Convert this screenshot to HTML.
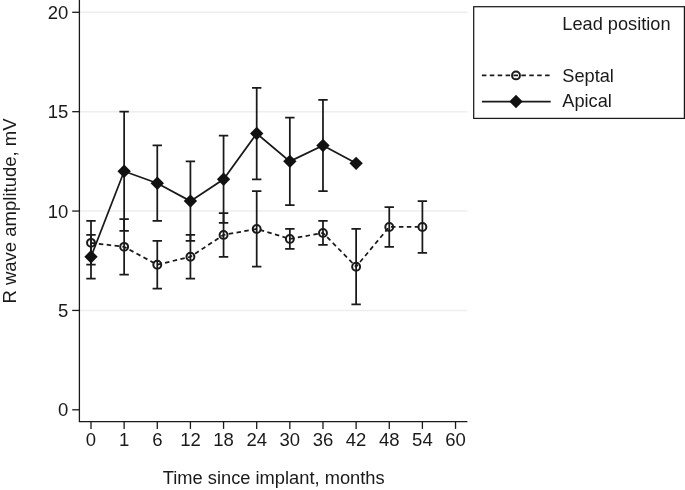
<!DOCTYPE html><html><head><meta charset="utf-8"><title>Chart</title><style>html,body{margin:0;padding:0;background:#fff}svg{display:block}text{font-family:"Liberation Sans",Arial,sans-serif;fill:#1a1a1a}</style></head><body>
<svg width="685" height="490" viewBox="0 0 685 490">
<rect width="685" height="490" fill="#fff"/>
<line x1="79.4" x2="467.4" y1="310.43" y2="310.43" stroke="#eeeeee" stroke-width="1.5"/>
<line x1="79.4" x2="467.4" y1="211.05" y2="211.05" stroke="#eeeeee" stroke-width="1.5"/>
<line x1="79.4" x2="467.4" y1="111.68" y2="111.68" stroke="#eeeeee" stroke-width="1.5"/>
<line x1="79.4" x2="467.4" y1="12.30" y2="12.30" stroke="#eeeeee" stroke-width="1.5"/>
<path d="M79.4 0V421.6H467.4" fill="none" stroke="#1a1a1a" stroke-width="1.3"/>
<line x1="72.2" x2="79.4" y1="409.80" y2="409.80" stroke="#1a1a1a" stroke-width="1.3"/>
<text x="68.4" y="416.40" font-size="18.5" text-anchor="end">0</text>
<line x1="72.2" x2="79.4" y1="310.43" y2="310.43" stroke="#1a1a1a" stroke-width="1.3"/>
<text x="68.4" y="317.03" font-size="18.5" text-anchor="end">5</text>
<line x1="72.2" x2="79.4" y1="211.05" y2="211.05" stroke="#1a1a1a" stroke-width="1.3"/>
<text x="68.4" y="217.65" font-size="18.5" text-anchor="end">10</text>
<line x1="72.2" x2="79.4" y1="111.68" y2="111.68" stroke="#1a1a1a" stroke-width="1.3"/>
<text x="68.4" y="118.28" font-size="18.5" text-anchor="end">15</text>
<line x1="72.2" x2="79.4" y1="12.30" y2="12.30" stroke="#1a1a1a" stroke-width="1.3"/>
<text x="68.4" y="18.90" font-size="18.5" text-anchor="end">20</text>
<line x1="91.00" x2="91.00" y1="421.6" y2="428.90000000000003" stroke="#1a1a1a" stroke-width="1.3"/>
<text x="91.00" y="445.5" font-size="18.5" text-anchor="middle">0</text>
<line x1="124.14" x2="124.14" y1="421.6" y2="428.90000000000003" stroke="#1a1a1a" stroke-width="1.3"/>
<text x="124.14" y="445.5" font-size="18.5" text-anchor="middle">1</text>
<line x1="157.28" x2="157.28" y1="421.6" y2="428.90000000000003" stroke="#1a1a1a" stroke-width="1.3"/>
<text x="157.28" y="445.5" font-size="18.5" text-anchor="middle">6</text>
<line x1="190.42" x2="190.42" y1="421.6" y2="428.90000000000003" stroke="#1a1a1a" stroke-width="1.3"/>
<text x="190.42" y="445.5" font-size="18.5" text-anchor="middle">12</text>
<line x1="223.56" x2="223.56" y1="421.6" y2="428.90000000000003" stroke="#1a1a1a" stroke-width="1.3"/>
<text x="223.56" y="445.5" font-size="18.5" text-anchor="middle">18</text>
<line x1="256.70" x2="256.70" y1="421.6" y2="428.90000000000003" stroke="#1a1a1a" stroke-width="1.3"/>
<text x="256.70" y="445.5" font-size="18.5" text-anchor="middle">24</text>
<line x1="289.84" x2="289.84" y1="421.6" y2="428.90000000000003" stroke="#1a1a1a" stroke-width="1.3"/>
<text x="289.84" y="445.5" font-size="18.5" text-anchor="middle">30</text>
<line x1="322.98" x2="322.98" y1="421.6" y2="428.90000000000003" stroke="#1a1a1a" stroke-width="1.3"/>
<text x="322.98" y="445.5" font-size="18.5" text-anchor="middle">36</text>
<line x1="356.12" x2="356.12" y1="421.6" y2="428.90000000000003" stroke="#1a1a1a" stroke-width="1.3"/>
<text x="356.12" y="445.5" font-size="18.5" text-anchor="middle">42</text>
<line x1="389.26" x2="389.26" y1="421.6" y2="428.90000000000003" stroke="#1a1a1a" stroke-width="1.3"/>
<text x="389.26" y="445.5" font-size="18.5" text-anchor="middle">48</text>
<line x1="422.40" x2="422.40" y1="421.6" y2="428.90000000000003" stroke="#1a1a1a" stroke-width="1.3"/>
<text x="422.40" y="445.5" font-size="18.5" text-anchor="middle">54</text>
<line x1="455.54" x2="455.54" y1="421.6" y2="428.90000000000003" stroke="#1a1a1a" stroke-width="1.3"/>
<text x="455.54" y="445.5" font-size="18.5" text-anchor="middle">60</text>
<text x="273.7" y="483.6" font-size="18.3" text-anchor="middle">Time since implant, months</text>
<text transform="translate(16.2 211) rotate(-90)" font-size="18.5" text-anchor="middle">R wave amplitude, mV</text>
<path d="M91.00 264.71V220.99M86.30 264.71h9.4M86.30 220.99h9.4" fill="none" stroke="#1a1a1a" stroke-width="1.75"/>
<path d="M124.14 274.65V219.00M119.44 274.65h9.4M119.44 219.00h9.4" fill="none" stroke="#1a1a1a" stroke-width="1.75"/>
<path d="M157.28 288.56V240.86M152.58 288.56h9.4M152.58 240.86h9.4" fill="none" stroke="#1a1a1a" stroke-width="1.75"/>
<path d="M190.42 278.62V234.90M185.72 278.62h9.4M185.72 234.90h9.4" fill="none" stroke="#1a1a1a" stroke-width="1.75"/>
<path d="M223.56 256.76V213.04M218.86 256.76h9.4M218.86 213.04h9.4" fill="none" stroke="#1a1a1a" stroke-width="1.75"/>
<path d="M256.70 266.70V191.18M252.00 266.70h9.4M252.00 191.18h9.4" fill="none" stroke="#1a1a1a" stroke-width="1.75"/>
<path d="M289.84 248.81V228.94M285.14 248.81h9.4M285.14 228.94h9.4" fill="none" stroke="#1a1a1a" stroke-width="1.75"/>
<path d="M322.98 244.84V220.99M318.28 244.84h9.4M318.28 220.99h9.4" fill="none" stroke="#1a1a1a" stroke-width="1.75"/>
<path d="M356.12 304.46V228.94M351.42 304.46h9.4M351.42 228.94h9.4" fill="none" stroke="#1a1a1a" stroke-width="1.75"/>
<path d="M389.26 246.83V207.08M384.56 246.83h9.4M384.56 207.08h9.4" fill="none" stroke="#1a1a1a" stroke-width="1.75"/>
<path d="M422.40 252.79V201.11M417.70 252.79h9.4M417.70 201.11h9.4" fill="none" stroke="#1a1a1a" stroke-width="1.75"/>
<path d="M91.00 278.62V234.90M86.30 278.62h9.4M86.30 234.90h9.4" fill="none" stroke="#1a1a1a" stroke-width="1.75"/>
<path d="M124.14 230.93V111.68M119.44 230.93h9.4M119.44 111.68h9.4" fill="none" stroke="#1a1a1a" stroke-width="1.75"/>
<path d="M157.28 220.99V145.46M152.58 220.99h9.4M152.58 145.46h9.4" fill="none" stroke="#1a1a1a" stroke-width="1.75"/>
<path d="M190.42 240.86V161.36M185.72 240.86h9.4M185.72 161.36h9.4" fill="none" stroke="#1a1a1a" stroke-width="1.75"/>
<path d="M223.56 222.97V135.52M218.86 222.97h9.4M218.86 135.52h9.4" fill="none" stroke="#1a1a1a" stroke-width="1.75"/>
<path d="M256.70 179.25V87.83M252.00 179.25h9.4M252.00 87.83h9.4" fill="none" stroke="#1a1a1a" stroke-width="1.75"/>
<path d="M289.84 205.09V117.64M285.14 205.09h9.4M285.14 117.64h9.4" fill="none" stroke="#1a1a1a" stroke-width="1.75"/>
<path d="M322.98 191.18V99.75M318.28 191.18h9.4M318.28 99.75h9.4" fill="none" stroke="#1a1a1a" stroke-width="1.75"/>
<polyline points="91.00,242.85 124.14,246.83 157.28,264.71 190.42,256.76 223.56,234.90 256.70,228.94 289.84,238.88 322.98,232.91 356.12,266.70 389.26,226.95 422.40,226.95" fill="none" stroke="#1a1a1a" stroke-width="1.75" stroke-dasharray="4.5 3.4"/>
<circle cx="91.00" cy="242.85" r="3.95" fill="none" stroke="#1a1a1a" stroke-width="2.0"/>
<circle cx="124.14" cy="246.83" r="3.95" fill="none" stroke="#1a1a1a" stroke-width="2.0"/>
<circle cx="157.28" cy="264.71" r="3.95" fill="none" stroke="#1a1a1a" stroke-width="2.0"/>
<circle cx="190.42" cy="256.76" r="3.95" fill="none" stroke="#1a1a1a" stroke-width="2.0"/>
<circle cx="223.56" cy="234.90" r="3.95" fill="none" stroke="#1a1a1a" stroke-width="2.0"/>
<circle cx="256.70" cy="228.94" r="3.95" fill="none" stroke="#1a1a1a" stroke-width="2.0"/>
<circle cx="289.84" cy="238.88" r="3.95" fill="none" stroke="#1a1a1a" stroke-width="2.0"/>
<circle cx="322.98" cy="232.91" r="3.95" fill="none" stroke="#1a1a1a" stroke-width="2.0"/>
<circle cx="356.12" cy="266.70" r="3.95" fill="none" stroke="#1a1a1a" stroke-width="2.0"/>
<circle cx="389.26" cy="226.95" r="3.95" fill="none" stroke="#1a1a1a" stroke-width="2.0"/>
<circle cx="422.40" cy="226.95" r="3.95" fill="none" stroke="#1a1a1a" stroke-width="2.0"/>
<polyline points="91.00,256.76 124.14,171.30 157.28,183.22 190.42,201.11 223.56,179.25 256.70,133.54 289.84,161.36 322.98,145.46 356.12,163.35" fill="none" stroke="#1a1a1a" stroke-width="1.75"/>
<path d="M91.00 250.06L97.70 256.76L91.00 263.46L84.30 256.76Z" fill="#111"/>
<path d="M124.14 164.60L130.84 171.30L124.14 178.00L117.44 171.30Z" fill="#111"/>
<path d="M157.28 176.53L163.98 183.22L157.28 189.92L150.58 183.22Z" fill="#111"/>
<path d="M190.42 194.41L197.12 201.11L190.42 207.81L183.72 201.11Z" fill="#111"/>
<path d="M223.56 172.55L230.26 179.25L223.56 185.95L216.86 179.25Z" fill="#111"/>
<path d="M256.70 126.84L263.40 133.54L256.70 140.24L250.00 133.54Z" fill="#111"/>
<path d="M289.84 154.66L296.54 161.36L289.84 168.06L283.14 161.36Z" fill="#111"/>
<path d="M322.98 138.76L329.68 145.46L322.98 152.16L316.28 145.46Z" fill="#111"/>
<path d="M356.12 156.65L362.82 163.35L356.12 170.05L349.42 163.35Z" fill="#111"/>
<rect x="473.7" y="6.7" width="210.7" height="111.7" fill="#fff" stroke="#1a1a1a" stroke-width="1.25"/>
<text x="562.3" y="30.3" font-size="18.2">Lead position</text>
<text x="562.3" y="81.7" font-size="18.2">Septal</text>
<text x="562.3" y="106.8" font-size="18.2">Apical</text>
<line x1="481.9" x2="550.7" y1="75.4" y2="75.4" stroke="#1a1a1a" stroke-width="1.75" stroke-dasharray="4.5 3.4"/>
<circle cx="516.0" cy="75.4" r="3.95" fill="none" stroke="#1a1a1a" stroke-width="2.0"/>
<line x1="481.9" x2="550.7" y1="101.5" y2="101.5" stroke="#1a1a1a" stroke-width="1.75"/>
<path d="M516.00 94.80L522.70 101.50L516.00 108.20L509.30 101.50Z" fill="#111"/>
</svg></body></html>
